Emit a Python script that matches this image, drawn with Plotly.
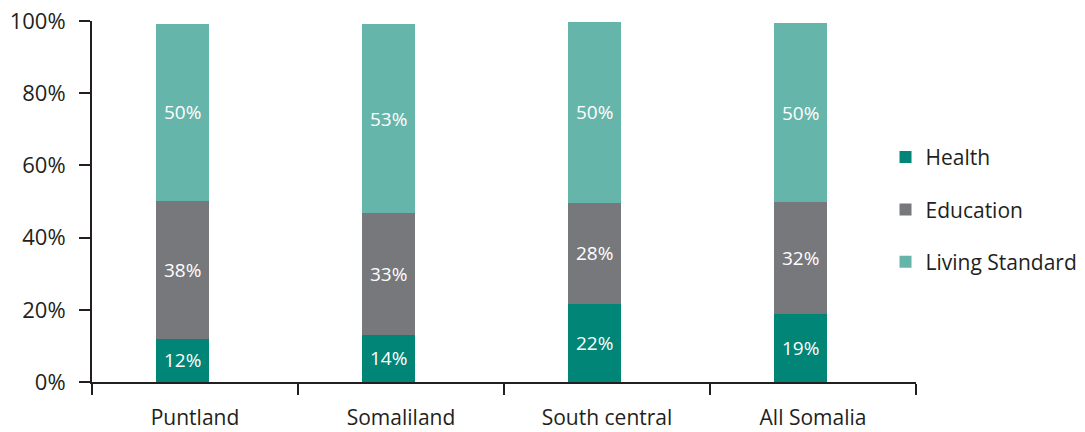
import plotly.graph_objects as go

regions = ["Puntland", "Somaliland", "South central", "All Somalia"]
health = [12.0, 13.1, 21.7, 18.7]
education = [38.2, 33.6, 28.0, 31.2]
living = [49.0, 52.5, 50.0, 49.5]
health_labels = ["12%", "14%", "22%", "19%"]
education_labels = ["38%", "33%", "28%", "32%"]
living_labels = ["50%", "53%", "50%", "50%"]
y_ticks = [0, 20, 40, 60, 80, 100]
y_tick_labels = ["0%", "20%", "40%", "60%", "80%", "100%"]

FONT = "Open Sans"
INK = "#231f20"
series = [
    ("Health", health, health_labels, "#008577"),
    ("Education", education, education_labels, "#77787c"),
    ("Living Standard", living, living_labels, "#66b5ab"),
]

fig = go.Figure()
for name, vals, labels, color in series:
    fig.add_trace(go.Bar(
        x=regions, y=vals, name=name, text=labels,
        marker=dict(color=color, line=dict(width=0)),
        width=0.26, offset=-0.19,
        textposition="inside", insidetextanchor="middle", textangle=0,
        insidetextfont=dict(family=FONT, size=19, color="white"),
        legendgroup=name, hoverinfo="skip",
    ))

# the page body adds an 8px offset, so the figure is 8px smaller each way
fig.update_layout(
    width=1077, height=424,
    margin=dict(l=84, r=169, t=13, b=50, autoexpand=False),
    barmode="stack",
    plot_bgcolor="white", paper_bgcolor="white",
    font=dict(family=FONT, size=22, color=INK),
    legend=dict(
        x=0.963, xanchor="left", y=0.478, yanchor="middle",
        traceorder="grouped", tracegroupgap=22,
        font=dict(family=FONT, size=21, color=INK),
        itemwidth=30, bgcolor="rgba(0,0,0,0)",
    ),
    showlegend=True,
)
fig.update_xaxes(
    type="category", range=[-0.5, 3.5], automargin=False,
    showline=True, linecolor=INK, linewidth=2,
    ticks="outside", tickson="boundaries", ticklen=11, tickwidth=2, tickcolor=INK,
    ticklabelstandoff=16, ticklabeloverflow="allow",
    showgrid=False, zeroline=False,
    tickfont=dict(family=FONT, size=21, color=INK),
)
fig.update_yaxes(
    range=[0, 100], tickmode="array", tickvals=y_ticks, ticktext=y_tick_labels,
    automargin=False,
    showline=True, linecolor=INK, linewidth=2,
    ticks="outside", ticklen=11, tickwidth=2, tickcolor=INK,
    ticklabelstandoff=9, ticklabeloverflow="allow",
    showgrid=False, zeroline=False,
    tickfont=dict(family=FONT, size=22, color=INK),
)

fig.write_html("out.html")
